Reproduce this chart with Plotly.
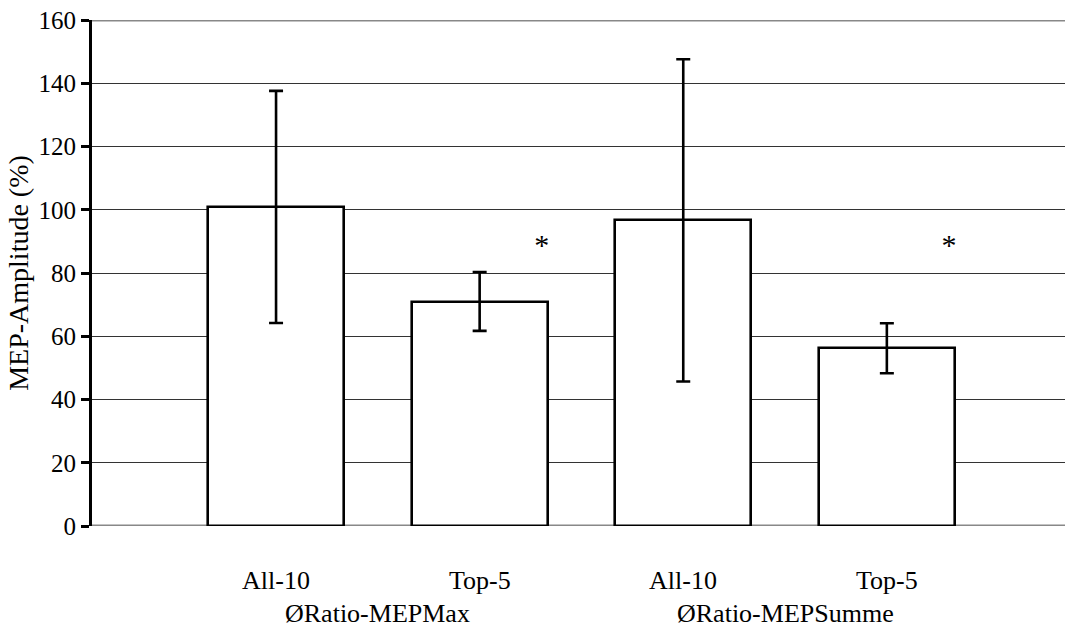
import plotly.graph_objects as go

# ---- data ----
groups = ["ØRatio-MEPMax", "ØRatio-MEPSumme"]
categories = ["All-10", "Top-5", "All-10", "Top-5"]
group_of_bar = [0, 0, 1, 1]
means = [100.8, 70.8, 96.8, 56.2]
err_upper = [137.6, 80.3, 147.6, 64.1]
err_lower = [64.2, 61.7, 45.7, 48.3]
sig_labels = ["", "*", "", "*"]
sig_y = [88, 88, 88, 88]
y_ticks = [0, 20, 40, 60, 80, 100, 120, 140, 160]

FONT = "Liberation Serif, Times New Roman, serif"

xpos = list(range(len(categories)))
plus = [u - m for u, m in zip(err_upper, means)]
minus = [m - l for m, l in zip(means, err_lower)]

fig = go.Figure()
fig.add_trace(go.Bar(
    x=xpos, y=means, width=0.668,
    marker=dict(color="white", line=dict(color="black", width=2.6)),
    error_y=dict(type="data", symmetric=False, array=plus, arrayminus=minus,
                 color="black", thickness=2.6, width=7),
    showlegend=False, hoverinfo="skip",
))

sx = [x + 0.305 for x, s in zip(xpos, sig_labels) if s]
sy = [y for y, s in zip(sig_y, sig_labels) if s]
st = [s for s in sig_labels if s]
fig.add_trace(go.Scatter(
    x=sx, y=sy, mode="text", text=st, textposition="middle center",
    textfont=dict(family=FONT, size=30, color="black"),
    showlegend=False, hoverinfo="skip",
))

# baseline / top gray lines
for yv in (0, 160):
    fig.add_shape(type="line", xref="paper", yref="y", x0=0, x1=1, y0=yv, y1=yv,
                  line=dict(color="#888888", width=3), layer="below")

annotations = []
for x, c in zip(xpos, categories):
    annotations.append(dict(x=x, y=-0.108, xref="x", yref="paper", text=c,
                            showarrow=False, xanchor="center", yanchor="middle",
                            font=dict(family=FONT, size=26, color="black")))
for gi, g in enumerate(groups):
    idx = [i for i, gb in enumerate(group_of_bar) if gb == gi]
    xc = sum(xpos[i] for i in idx) / len(idx)
    annotations.append(dict(x=xc, y=-0.172, xref="x", yref="paper", text=g,
                            showarrow=False, xanchor="center", yanchor="middle",
                            font=dict(family=FONT, size=26, color="black")))

fig.update_layout(
    width=1065, height=628,
    margin=dict(l=92, r=0, t=20, b=101.5),
    paper_bgcolor="white", plot_bgcolor="white",
    font=dict(family=FONT, size=25, color="black"),
    annotations=annotations,
    bargap=0,
)
fig.update_xaxes(range=[-0.904, 3.875], showgrid=False, zeroline=False,
                 showticklabels=False, showline=False, ticks="")
fig.update_yaxes(range=[0, 160], tickvals=y_ticks, showgrid=True, gridcolor="#333333",
                 gridwidth=1, zeroline=False, showline=True, linecolor="black", linewidth=3,
                 ticks="outside", ticklen=8, tickwidth=3, tickcolor="black",
                 tickfont=dict(family=FONT, size=25, color="black"),
                 title=dict(text="MEP-Amplitude (%)", font=dict(family=FONT, size=28, color="black"),
                            standoff=2))

fig.write_html("out.html")
